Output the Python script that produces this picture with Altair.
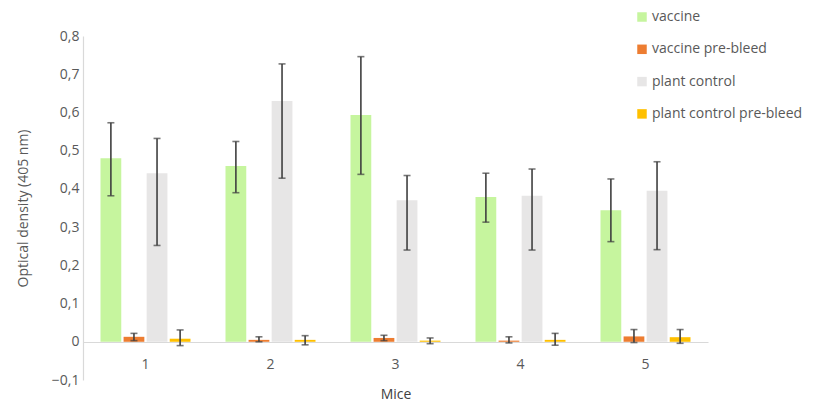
import altair as alt
import pandas as pd

mice = ["1", "2", "3", "4", "5"]
series = ["vaccine", "vaccine pre-bleed", "plant control", "plant control pre-bleed"]
colors = ["#C6F59E", "#ED7D31", "#E7E6E6", "#FFC000"]

vaccine = [0.480, 0.460, 0.593, 0.379, 0.344]
vaccine_lo = [0.382, 0.390, 0.438, 0.313, 0.262]
vaccine_hi = [0.573, 0.524, 0.746, 0.441, 0.426]

vpre = [0.013, 0.005, 0.010, 0.003, 0.014]
vpre_lo = [0.003, 0.000, 0.003, -0.003, -0.002]
vpre_hi = [0.022, 0.013, 0.017, 0.013, 0.032]

plant = [0.441, 0.630, 0.370, 0.382, 0.395]
plant_lo = [0.252, 0.428, 0.240, 0.240, 0.241]
plant_hi = [0.532, 0.727, 0.435, 0.452, 0.471]

ppre = [0.008, 0.005, 0.003, 0.005, 0.012]
ppre_lo = [-0.010, -0.008, -0.005, -0.009, -0.004]
ppre_hi = [0.031, 0.016, 0.010, 0.022, 0.032]

y_ticks = [-0.1, 0, 0.1, 0.2, 0.3, 0.4, 0.5, 0.6, 0.7, 0.8]

rows = []
for s, vals, lo, hi in [
    (series[0], vaccine, vaccine_lo, vaccine_hi),
    (series[1], vpre, vpre_lo, vpre_hi),
    (series[2], plant, plant_lo, plant_hi),
    (series[3], ppre, ppre_lo, ppre_hi),
]:
    for m, v, l, h in zip(mice, vals, lo, hi):
        rows.append({"Mice": m, "series": s, "value": v, "low": l, "high": h})
df = pd.DataFrame(rows)

FONT = "Open Sans"
GREY = "#595959"

x_enc = alt.X(
    "Mice:N",
    sort=mice,
    scale=alt.Scale(paddingInner=0.28, paddingOuter=0.14),
    axis=alt.Axis(
        title="Mice",
        labelAngle=0,
        offset=-38,
        domainColor="#D9D9D9",
        domainWidth=1.2,
        ticks=False,
        labelPadding=15,
        labelFontSize=14,
        labelColor=GREY,
        titleFontSize=14,
        titleFontWeight="normal",
        titleColor="#404040",
        titlePadding=16,
        labelFont=FONT,
        titleFont=FONT,
    ),
)
xoff = alt.XOffset("series:N", sort=series, scale=alt.Scale(paddingInner=0.1))
y_scale = alt.Scale(domain=[-0.1, 0.8], nice=False, zero=False)

y_axis = alt.Axis(
    title="Optical density (405 nm)",
    values=y_ticks,
    labelExpr="datum.value == 0 ? '0' : replace(format(datum.value, '.1f'), '.', ',')",
    labelOverlap=False,
    labelFlush=False,
    labelBound=False,
    grid=False,
    ticks=False,
    tickSize=0,
    domainColor="#D9D9D9",
    domainWidth=1.2,
    labelPadding=4,
    labelFontSize=14,
    labelColor=GREY,
    titleFontSize=14,
    titleFontWeight="normal",
    titleColor=GREY,
    titlePadding=21,
    labelFont=FONT,
    titleFont=FONT,
)

bars = alt.Chart(df).mark_bar().encode(
    x=x_enc,
    xOffset=xoff,
    y=alt.Y("value:Q", scale=y_scale, axis=y_axis),
    color=alt.Color(
        "series:N",
        sort=series,
        scale=alt.Scale(domain=series, range=colors),
        legend=alt.Legend(
            title=None,
            orient="none",
            legendX=552,
            legendY=-26,
            symbolType="square",
            symbolSize=90,
            symbolStrokeWidth=0,
            labelFontSize=14,
            labelColor=GREY,
            labelFont=FONT,
            rowPadding=18.3,
            labelOffset=3,
            labelLimit=300,
        ),
    ),
)

rules = alt.Chart(df).mark_rule(color="#404040", strokeWidth=1.6).encode(
    x=alt.X("Mice:N", sort=mice),
    xOffset=xoff,
    y=alt.Y("low:Q", scale=y_scale, axis=y_axis),
    y2="high:Q",
)

cap_lo = alt.Chart(df).mark_tick(color="#404040", size=7, thickness=1.6).encode(
    x=alt.X("Mice:N", sort=mice),
    xOffset=xoff,
    y=alt.Y("low:Q", scale=y_scale, axis=y_axis),
)
cap_hi = alt.Chart(df).mark_tick(color="#404040", size=7, thickness=1.6).encode(
    x=alt.X("Mice:N", sort=mice),
    xOffset=xoff,
    y=alt.Y("high:Q", scale=y_scale, axis=y_axis),
)

chart = (
    alt.layer(bars, rules, cap_lo, cap_hi)
    .properties(
        width=625,
        height=344,
        autosize=alt.AutoSizeParams(type="none"),
        padding={"left": 75, "top": 28, "right": 98, "bottom": 24},
    )
    .configure_view(stroke=None)
    .configure_axisY(labelOverlap=False)
)

chart.save("out.html", embed_options={"renderer": "svg", "actions": False})
